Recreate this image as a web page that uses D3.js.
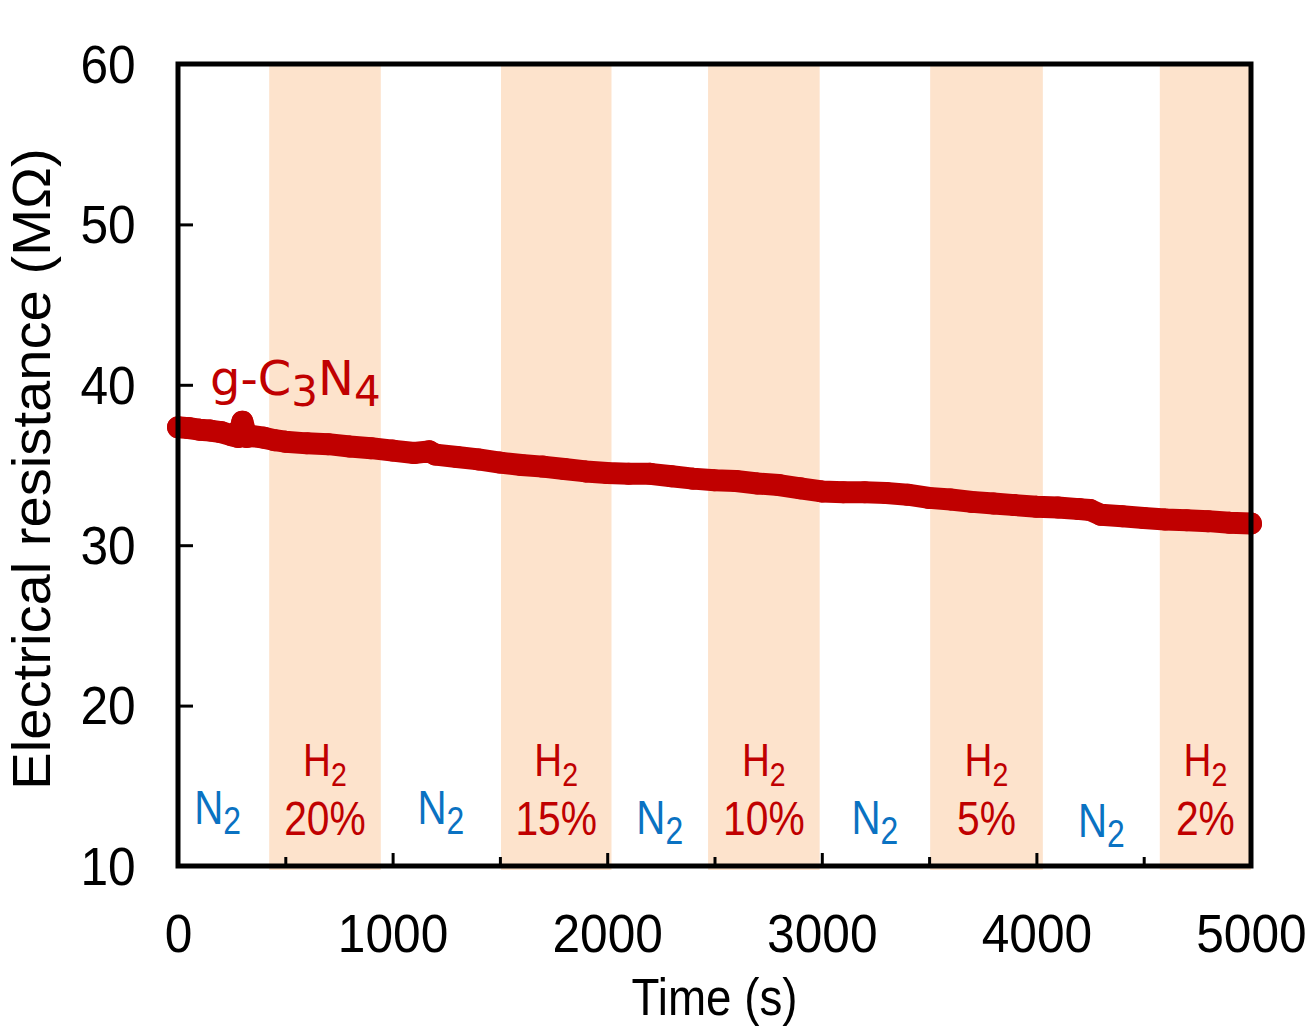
<!DOCTYPE html>
<html>
<head>
<meta charset="utf-8">
<script src="https://cdn.jsdelivr.net/npm/d3@7"></script>
<style>
  html, body { margin: 0; padding: 0; background: #fff; }
  svg { display: block; }
</style>
</head>
<body>
<svg id="chart" width="1307" height="1028"></svg>
<script>
// Resistance trace of the g-C3N4 sensor (time in s, resistance in MΩ)
const times = [0, 50, 100, 150, 200, 250, 280, 300, 320, 350, 400, 450, 500, 600, 700, 800, 900, 1000,
  1100, 1170, 1200, 1300, 1400, 1500, 1600, 1700, 1800, 1900, 2000, 2100, 2200, 2300, 2400, 2500,
  2600, 2700, 2800, 2900, 3000, 3100, 3200, 3300, 3400, 3500, 3600, 3700, 3800, 3900, 4000, 4100,
  4200, 4250, 4300, 4400, 4500, 4600, 4700, 4800, 4900, 5000];
const resistance = [37.35, 37.3, 37.2, 37.15, 37.05, 36.85, 36.75, 37.7, 36.75, 36.8, 36.7, 36.55, 36.45,
  36.35, 36.3, 36.15, 36.05, 35.9, 35.75, 35.85, 35.65, 35.5, 35.35, 35.15, 35.0, 34.9, 34.75, 34.6,
  34.5, 34.45, 34.45, 34.3, 34.15, 34.05, 34.0, 33.85, 33.75, 33.55, 33.35, 33.3, 33.3, 33.25, 33.15,
  32.95, 32.85, 32.7, 32.6, 32.5, 32.4, 32.35, 32.25, 32.2, 31.9, 31.8, 31.7, 31.6, 31.55, 31.5, 31.4, 31.35];

// H2 exposure windows (s) and their concentrations
const h2Starts = [425, 1505, 2470, 3505, 4575];
const h2Ends = [945, 2020, 2990, 4030, 5000];
const h2Levels = ["20%", "15%", "10%", "5%", "2%"];

// Axis ticks
const yTicks = [10, 20, 30, 40, 50, 60];
const xMajorTicks = [0, 1000, 2000, 3000, 4000, 5000];
const xMinorTicks = [500, 1500, 2500, 3500, 4500];

const seriesName = ["g-C", "3", "N", "4"];
const xTitle = "Time (s)";
const yTitle = "Electrical resistance (MΩ)";

const red = "#C00000";
const blue = "#0A72C2";
const bandFill = "#FDE3CC";
const axisFont = "'Liberation Sans', Arial, sans-serif";

const svg = d3.select("#chart");
const M = { left: 178, right: 1251, top: 64, bottom: 866 };

const x = d3.scaleLinear().domain([0, 5000]).range([M.left, M.right]);
const y = d3.scaleLinear().domain([10, 60]).range([M.bottom, M.top]);

// Shaded H2 windows
const bands = h2Starts.map((s, i) => ({ s, e: h2Ends[i], label: h2Levels[i] }));
svg.append("g").selectAll("rect").data(bands).join("rect")
  .attr("x", d => x(d.s))
  .attr("width", d => x(d.e) - x(d.s))
  .attr("y", y(60))
  .attr("height", y(10) - y(60) + 4)
  .attr("fill", bandFill);

// Gas labels
const labelG = svg.append("g").attr("font-family", axisFont);
bands.forEach(d => {
  const cx = (x(d.s) + x(d.e)) / 2;
  const h = labelG.append("text")
    .attr("transform", `translate(${cx},776) scale(0.84,1)`)
    .attr("text-anchor", "middle")
    .attr("font-size", 46)
    .attr("fill", red);
  h.append("tspan").text("H");
  h.append("tspan").attr("font-size", 34).attr("dy", 10).text("2");
  labelG.append("text")
    .attr("transform", `translate(${cx},835) scale(0.85,1)`)
    .attr("text-anchor", "middle")
    .attr("font-size", 48)
    .attr("fill", red)
    .text(d.label);
});

// N2 purge periods sit between the H2 windows
const gapStarts = [0].concat(h2Ends.slice(0, -1));
const gapEnds = h2Starts;
const n2Baselines = [824, 824, 834, 834, 837];
gapStarts.forEach((s, i) => {
  const cx = (x(s) + x(gapEnds[i])) / 2 - (i === 0 ? 6 : 0);
  const t = labelG.append("text")
    .attr("transform", `translate(${cx},${n2Baselines[i]}) scale(0.84,1)`)
    .attr("text-anchor", "middle")
    .attr("font-size", 48)
    .attr("fill", blue);
  t.append("tspan").text("N");
  t.append("tspan").attr("font-size", 38).attr("dy", 10).text("2");
});

// Resistance trace
const pts = times.map((t, i) => [t, resistance[i]]);
const line = d3.line().x(d => x(d[0])).y(d => y(d[1]));
svg.append("path")
  .datum(pts)
  .attr("d", line)
  .attr("fill", "none")
  .attr("stroke", red)
  .attr("stroke-width", 22)
  .attr("stroke-linejoin", "round")
  .attr("stroke-linecap", "round");
svg.append("g").selectAll("circle").data(pts).join("circle")
  .attr("cx", d => x(d[0]))
  .attr("cy", d => y(d[1]))
  .attr("r", 11)
  .attr("fill", red);

// Series label
const sl = svg.append("text")
  .attr("transform", "translate(210,395)")
  .attr("font-family", "'DejaVu Sans', Verdana, sans-serif")
  .attr("font-size", 48)
  .attr("fill", red);
sl.append("tspan").text(seriesName[0]);
sl.append("tspan").attr("font-size", 42).attr("dy", 11).text(seriesName[1]);
sl.append("tspan").attr("dy", -11).text(seriesName[2]);
sl.append("tspan").attr("font-size", 42).attr("dy", 11).text(seriesName[3]);

// Y axis with inward ticks
const yAxis = svg.append("g")
  .attr("transform", `translate(${M.left},0)`)
  .call(d3.axisLeft(y).tickValues(yTicks).tickSize(-15).tickPadding(0));
yAxis.select(".domain").remove();
yAxis.selectAll(".tick line").attr("stroke", "#000").attr("stroke-width", 3);
yAxis.selectAll(".tick text")
  .attr("font-family", axisFont)
  .attr("font-size", 54)
  .attr("fill", "#000")
  .attr("x", -46)
  .attr("dy", "0.34em")
  .attr("text-anchor", "end")
  .attr("transform", "scale(0.92,1)");

// X axis: labelled major ticks and shorter minor ticks
const xAxis = svg.append("g")
  .attr("transform", `translate(0,${M.bottom})`)
  .call(d3.axisBottom(x).tickValues(xMajorTicks).tickSize(-13).tickFormat(d3.format("d")));
xAxis.select(".domain").remove();
xAxis.selectAll(".tick line").attr("stroke", "#000").attr("stroke-width", 3);
xAxis.selectAll(".tick text")
  .attr("font-family", axisFont)
  .attr("font-size", 54)
  .attr("fill", "#000")
  .attr("y", 86)
  .attr("dy", 0)
  .attr("transform", "scale(0.92,1)");

const xMinor = svg.append("g")
  .attr("transform", `translate(0,${M.bottom})`)
  .call(d3.axisBottom(x).tickValues(xMinorTicks).tickSize(-9).tickFormat(""));
xMinor.select(".domain").remove();
xMinor.selectAll(".tick line").attr("stroke", "#000").attr("stroke-width", 3);

// Plot frame
svg.append("rect")
  .attr("x", M.left).attr("y", M.top)
  .attr("width", M.right - M.left).attr("height", M.bottom - M.top)
  .attr("fill", "none")
  .attr("stroke", "#000")
  .attr("stroke-width", 5);

// Axis titles
svg.append("text")
  .attr("transform", `translate(${(M.left + M.right) / 2},1015) scale(0.88,1)`)
  .attr("text-anchor", "middle")
  .attr("font-family", axisFont)
  .attr("font-size", 52)
  .attr("fill", "#000")
  .text(xTitle);

svg.append("text")
  .attr("transform", `translate(50,${(M.top + M.bottom) / 2 + 4}) rotate(-90) scale(1.06,1)`)
  .attr("text-anchor", "middle")
  .attr("font-family", axisFont)
  .attr("font-size", 53)
  .attr("fill", "#000")
  .text(yTitle);
</script>
</body>
</html>
